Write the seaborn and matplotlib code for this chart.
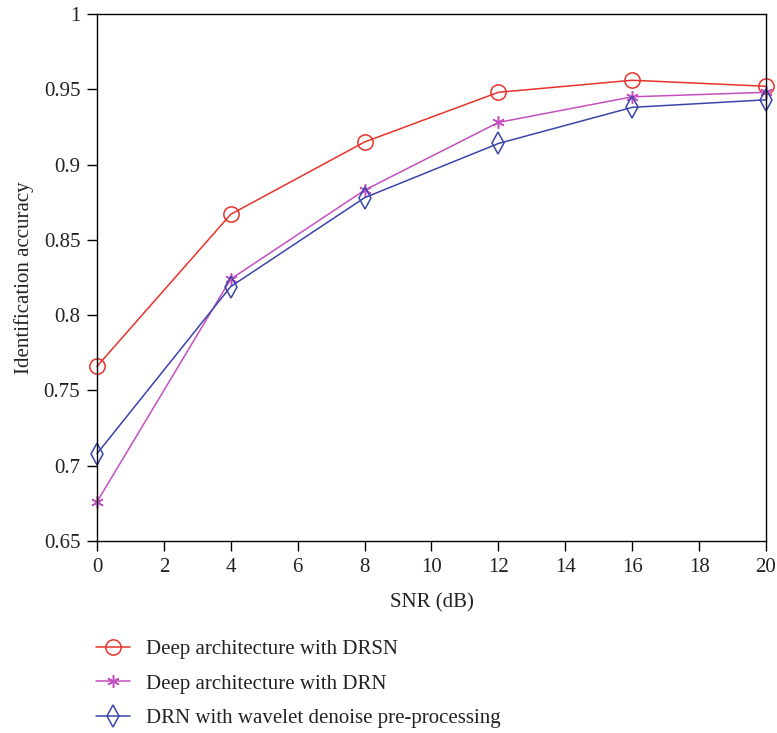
import matplotlib
matplotlib.use("Agg")
import matplotlib.pyplot as plt
import seaborn as sns
import pandas as pd

snr = [0, 4, 8, 12, 16, 20]
acc_drsn = [0.766, 0.867, 0.915, 0.948, 0.956, 0.952]
acc_drn = [0.676, 0.824, 0.883, 0.928, 0.945, 0.948]
acc_wavelet = [0.708, 0.819, 0.878, 0.914, 0.938, 0.943]

labels = ["Deep architecture with DRSN",
          "Deep architecture with DRN",
          "DRN with wavelet denoise pre-processing"]
colors = ["#E8332B", "#C450C0", "#3B45A9"]
markers = ["o", (6, 2, 0), "d"]
msizes = [11, 9, 11]

sns.set_theme(style="white")
plt.rcParams["font.family"] = ["Liberation Serif", "DejaVu Serif"]

fig = plt.figure(figsize=(7.77, 7.33), dpi=100)
ax = fig.add_axes([0.1248, 0.2619, 0.861, 0.719])

df = pd.DataFrame({
    "SNR": snr * 3,
    "acc": acc_drsn + acc_drn + acc_wavelet,
    "model": [labels[0]] * 6 + [labels[1]] * 6 + [labels[2]] * 6,
})

handles = []
for lab, col, mk, ms in zip(labels, colors, markers, msizes):
    sub = df[df["model"] == lab]
    sns.lineplot(data=sub, x="SNR", y="acc", ax=ax, color=col, lw=1.1,
                 marker=mk, markersize=ms, markerfacecolor="none",
                 markeredgecolor=col, markeredgewidth=1.1, label=lab,
                 legend=False, clip_on=False)
    handles.append(ax.lines[-1])

ax.set_xlim(0, 20)
ax.set_ylim(0.65, 1.0)
ax.set_xticks(range(0, 21, 2))
ax.set_yticks([0.65, 0.7, 0.75, 0.8, 0.85, 0.9, 0.95, 1.0])
ax.set_yticklabels(["0.65", "0.7", "0.75", "0.8", "0.85", "0.9", "0.95", "1"])
ax.tick_params(axis="both", which="both", direction="out", length=7, width=1,
               color="black", labelsize=15, labelcolor="#222222",
               bottom=True, left=True, top=False, right=False, pad=5)
for s in ax.spines.values():
    s.set_color("black")
    s.set_linewidth(1.0)
ax.set_xlabel("SNR (dB)", fontsize=15, color="#222222", labelpad=12)
ax.set_ylabel("Identification accuracy", fontsize=15, color="#222222", labelpad=7)

fig.legend(handles=handles, labels=labels, loc="upper left",
           bbox_to_anchor=(0.1, 0.153), frameon=False, fontsize=15,
           handlelength=1.6, labelspacing=0.72, handletextpad=0.8,
           labelcolor="#222222")

fig.savefig("out.png", dpi=100)
